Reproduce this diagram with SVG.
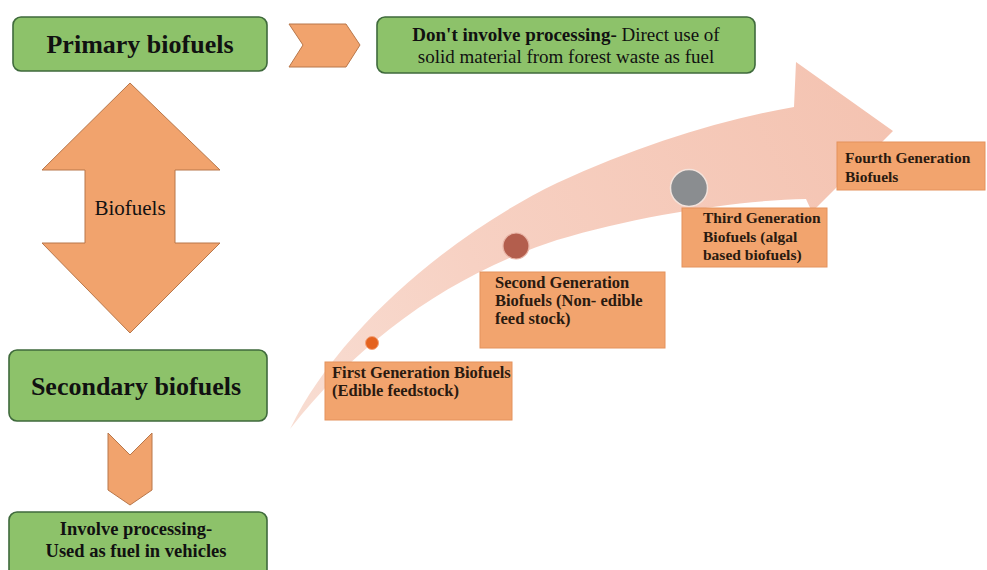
<svg xmlns="http://www.w3.org/2000/svg" width="987" height="570" viewBox="0 0 987 570">
<defs>
<style>
.green{fill:#8dc26a;stroke:#3f6a3c;stroke-width:1.6}
.orange{fill:#f1a36d;stroke:#b8774a;stroke-width:1}
.obox{fill:#f2a46e;stroke:#e4925d;stroke-width:1}
text{font-family:'Liberation Serif','DejaVu Serif',serif;fill:#111}
.tb{font-weight:bold}
.gen{font-weight:bold;font-size:15.5px;fill:#2a1a10}
.gen2{font-size:16.5px}
</style>
<linearGradient id="band" gradientUnits="userSpaceOnUse" x1="292" y1="427" x2="893" y2="131">
<stop offset="0" stop-color="#f8ddd2"/>
<stop offset="0.35" stop-color="#f7d1c3"/>
<stop offset="1" stop-color="#f4c3b1"/>
</linearGradient>
</defs>
<rect width="987" height="570" fill="#ffffff"/>

<g id="generation-arrow">
<path d="M290,429 C338,330 450,235 557,183 C640,145 720,120 794,107 L796,62 L893,131 L812,212 L806,199 C740,200 640,215 557,240 C450,275 360,340 290,429 Z" fill="url(#band)"/>
</g>

<g id="connectors">
<path class="orange" d="M289,24 L346,24 L360,45 L346,67 L289,67 L303,45 Z"/>
<path class="orange" d="M130,83 L220,170 L175,170 L175,243 L220,243 L130,333 L42,243 L85,243 L85,170 L42,170 Z"/>
<text x="130" y="215" font-family="Liberation Serif, DejaVu Serif, serif" font-size="21" text-anchor="middle">Biofuels</text>
<path class="orange" d="M108,433 L130,455 L152,433 L152,490 L130,505 L108,490 Z"/>
</g>

<g id="primary">
<rect class="green" x="13" y="17" width="254" height="54" rx="8"/>
<text class="tb" x="140" y="53" font-family="Liberation Serif, DejaVu Serif, serif" font-size="26" text-anchor="middle">Primary biofuels</text>
</g>

<g id="primary-desc">
<rect class="green" x="377" y="17" width="378" height="56" rx="8"/>
<text x="566" y="41" font-family="Liberation Serif, DejaVu Serif, serif" font-size="19" text-anchor="middle"><tspan font-weight="bold">Don't involve processing-</tspan> Direct use of</text>
<text x="566" y="63" font-family="Liberation Serif, DejaVu Serif, serif" font-size="19" text-anchor="middle">solid material from forest waste as fuel</text>
</g>

<g id="secondary">
<rect class="green" x="9" y="350" width="258" height="71" rx="8"/>
<text class="tb" x="136" y="395" font-family="Liberation Serif, DejaVu Serif, serif" font-size="26" text-anchor="middle">Secondary biofuels</text>
</g>

<g id="secondary-desc">
<rect class="green" x="9" y="512" width="258" height="66" rx="8"/>
<text class="tb" x="136" y="535" font-family="Liberation Serif, DejaVu Serif, serif" font-size="18.5" text-anchor="middle">Involve processing-</text>
<text class="tb" x="136" y="557" font-family="Liberation Serif, DejaVu Serif, serif" font-size="18.5" text-anchor="middle">Used as fuel in vehicles</text>
</g>

<g id="first-gen">
<circle cx="372" cy="343" r="6.5" fill="#e4621f" stroke="#f3a27a" stroke-width="1"/>
<rect class="obox" x="325" y="362" width="187" height="58"/>
<text class="gen gen2" x="332" y="378" font-family="Liberation Serif, DejaVu Serif, serif">First Generation  Biofuels</text>
<text class="gen gen2" x="332" y="396" font-family="Liberation Serif, DejaVu Serif, serif">(Edible feedstock)</text>
</g>

<g id="second-gen">
<circle cx="516" cy="246" r="13" fill="#b35e4d" stroke="#e8b4a6" stroke-width="1.2"/>
<rect class="obox" x="480" y="272" width="185" height="76"/>
<text class="gen gen2" x="495" y="288" font-family="Liberation Serif, DejaVu Serif, serif">Second Generation</text>
<text class="gen gen2" x="495" y="306" font-family="Liberation Serif, DejaVu Serif, serif">Biofuels (Non- edible</text>
<text class="gen gen2" x="495" y="324" font-family="Liberation Serif, DejaVu Serif, serif">feed stock)</text>
</g>

<g id="third-gen">
<circle cx="689" cy="188" r="18.5" fill="#8a8d90" stroke="#f3e3dc" stroke-width="1.5"/>
<rect class="obox" x="682" y="208" width="145" height="59"/>
<text class="gen" x="703" y="223" font-family="Liberation Serif, DejaVu Serif, serif">Third Generation</text>
<text class="gen" x="703" y="242" font-family="Liberation Serif, DejaVu Serif, serif">Biofuels (algal</text>
<text class="gen" x="703" y="260" font-family="Liberation Serif, DejaVu Serif, serif">based biofuels)</text>
</g>

<g id="fourth-gen">
<rect class="obox" x="837" y="142" width="148" height="48"/>
<text class="gen" x="845" y="163" font-family="Liberation Serif, DejaVu Serif, serif">Fourth Generation</text>
<text class="gen" x="845" y="182" font-family="Liberation Serif, DejaVu Serif, serif">Biofuels</text>
</g>
</svg>
